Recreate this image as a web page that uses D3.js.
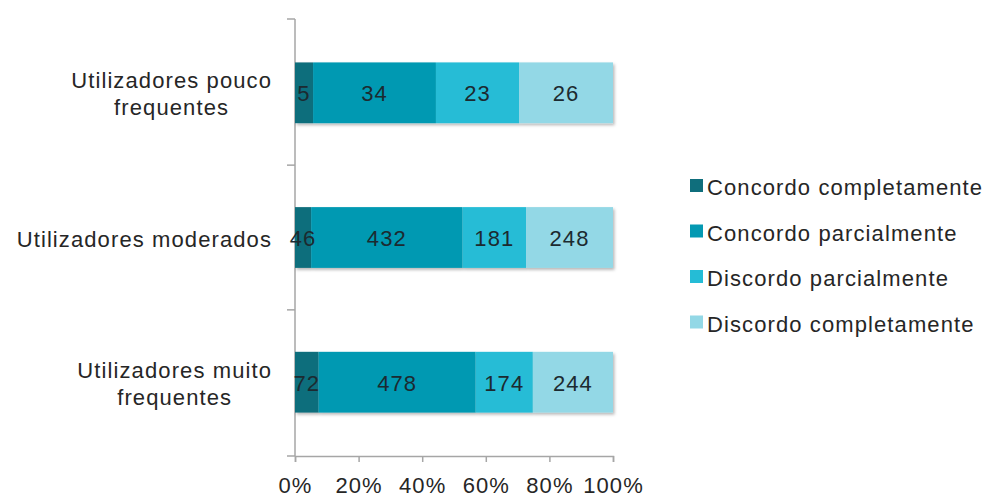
<!DOCTYPE html>
<html><head><meta charset="utf-8">
<script src="https://cdn.jsdelivr.net/npm/d3@7"></script>
<style>body{margin:0;background:#fff}svg{display:block}text{font-family:"Liberation Sans",Arial,sans-serif;font-size:22px;letter-spacing:1.1px}</style>
</head><body>
<script>
const categories = [["Utilizadores pouco","frequentes"],["Utilizadores moderados"],["Utilizadores muito","frequentes"]];
const seriesNames = ["Concordo completamente","Concordo parcialmente","Discordo parcialmente","Discordo completamente"];
const concordoCompletamente = [5, 46, 72];
const concordoParcialmente = [34, 432, 478];
const discordoParcialmente = [23, 181, 174];
const discordoCompletamente = [26, 248, 244];
const tickValues = [0, 0.2, 0.4, 0.6, 0.8, 1];
const colors = ["#0f6e7c", "#0499b2", "#25bcd6", "#93d8e6"];

const W = 994, H = 499;
const svg = d3.select("body").append("svg").attr("width", W).attr("height", H);
const defs = svg.append("defs");
const f = defs.append("filter").attr("id","sh").attr("x","-5%").attr("y","-10%").attr("width","115%").attr("height","130%");
f.append("feDropShadow").attr("dx",1.5).attr("dy",2).attr("stdDeviation",1.5).attr("flood-color","#000").attr("flood-opacity",0.28);

const x = d3.scaleLinear().domain([0,1]).range([295, 613]);
const y = d3.scaleBand().domain(d3.range(categories.length)).range([19, 456]).paddingInner(0.58).paddingOuter(0.3);

const rows = categories.map((c,i)=>[concordoCompletamente[i],concordoParcialmente[i],discordoParcialmente[i],discordoCompletamente[i]]);

const axisColor = "#a6a6a6";
const textColor = "#262626";
const yEdges = [19, ...d3.range(1,categories.length).map(i=>y(i) - y.step()*y.paddingInner()/2), 456];
svg.append("line").attr("x1",295).attr("x2",295).attr("y1",19).attr("y2",456).attr("stroke",axisColor).attr("stroke-width",1.5);
svg.selectAll(".yt").data(yEdges).join("line").attr("x1",287).attr("x2",295).attr("y1",d=>d).attr("y2",d=>d).attr("stroke",axisColor).attr("stroke-width",1.5);

const xa = svg.append("g").attr("transform","translate(0,456)")
  .call(d3.axisBottom(x).tickValues(tickValues).tickFormat(d3.format(".0%")).tickSize(6).tickPadding(15));
xa.select(".domain").attr("stroke",axisColor).attr("stroke-width",1.5);
xa.selectAll(".tick line").attr("stroke",axisColor).attr("stroke-width",1.5);
xa.selectAll(".tick text").attr("fill",textColor);
xa.attr("font-size",null).attr("font-family",null);

rows.forEach((vals,i)=>{
  const total = d3.sum(vals);
  let acc = 0;
  const segs = vals.map((v,k)=>{const s={k,v,x0:acc/total,x1:(acc+v)/total}; acc+=v; return s;});
  const g = svg.append("g");
  g.append("g").attr("filter","url(#sh)").selectAll("rect").data(segs).join("rect")
    .attr("x",d=>x(d.x0)).attr("width",d=>x(d.x1)-x(d.x0))
    .attr("y",y(i)).attr("height",y.bandwidth()).attr("fill",d=>colors[d.k]);
  g.selectAll("text").data(segs).join("text")
    .attr("x",d=>(x(d.x0)+x(d.x1))/2).attr("y",y(i)+y.bandwidth()/2+8.5)
    .attr("text-anchor","middle").attr("fill","#1c2a30").text(d=>d.v);
  const lines = categories[i];
  const lt = svg.append("g");
  const ts = lines.map(l=>lt.append("text").attr("fill",textColor).text(l));
  const maxW = d3.max(ts, t=>t.node().getComputedTextLength());
  const cx = 272 - maxW/2;
  const cy = y(i)+y.bandwidth()/2;
  const lh = 27;
  ts.forEach((t,j)=>t.attr("text-anchor","middle").attr("x",cx).attr("y",cy + 9 + (j-(lines.length-1)/2)*lh));
});

const lg = svg.append("g");
seriesNames.forEach((n,k)=>{
  const by = 195 + k*45.5;
  lg.append("rect").attr("x",690).attr("y",by-16).attr("width",13).attr("height",13).attr("fill",colors[k]);
  lg.append("text").attr("x",707).attr("y",by).attr("fill",textColor).text(n);
});
</script>
</body></html>
